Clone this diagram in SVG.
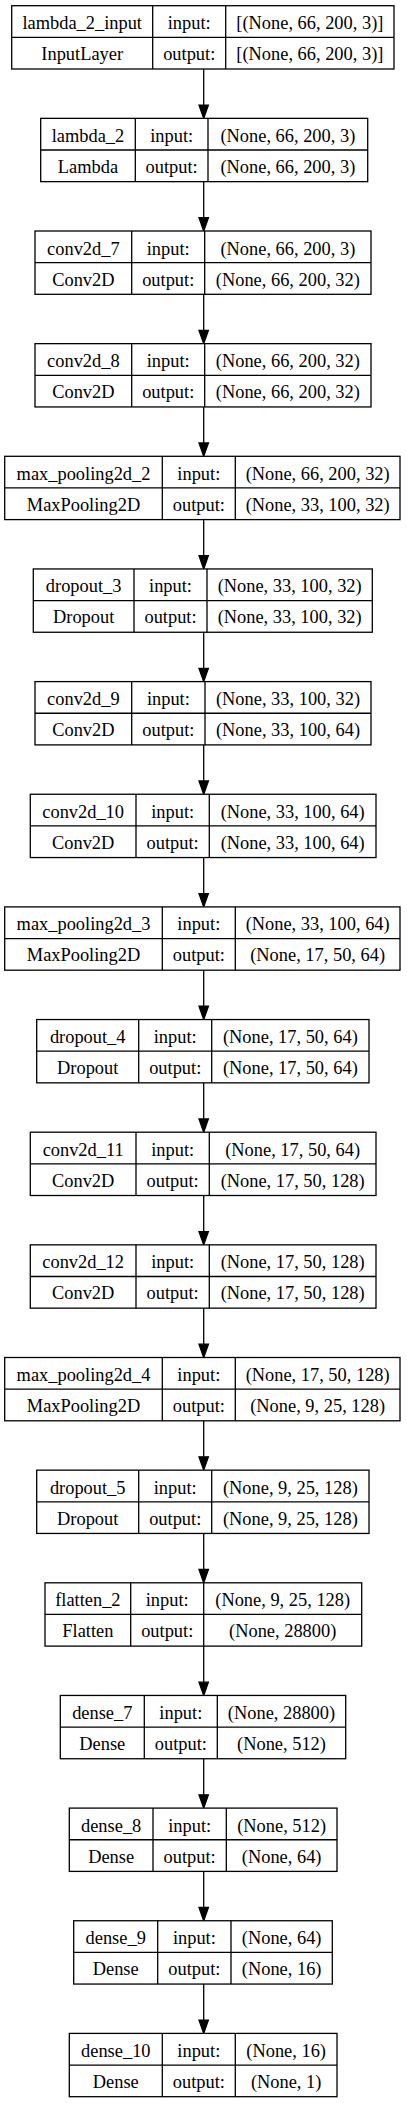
<svg xmlns="http://www.w3.org/2000/svg" width="407" height="2103" viewBox="0 0 407 2103" font-family="'Liberation Serif', Tinos, 'Times New Roman', 'DejaVu Serif', serif">
<style>
.bg{fill:#ffffff}
.box{fill:#ffffff;stroke:#000000;stroke-width:1.3}
.sep{stroke:#000000;stroke-width:1.3;fill:none}
.t{font-family:'Liberation Serif', Tinos, 'Times New Roman', 'DejaVu Serif', serif;font-size:18.4px;fill:#000000;text-anchor:middle}
.edge{stroke:#000000;stroke-width:1.3;fill:none;marker-end:url(#ah)}
</style>
<defs>
<marker id="ah" markerUnits="userSpaceOnUse" markerWidth="16" markerHeight="12" refX="0" refY="4.7" orient="auto" viewBox="-1 0 16 9.4" overflow="visible">
<path d="M0,0 L13.3,4.7 L0,9.4 Z" fill="#000000" stroke="#000000" stroke-width="1.3"/>
</marker>
</defs>
<rect class="bg" x="0" y="0" width="407" height="2103"/>

<g id="connectors">
<line class="edge" x1="203.7" y1="69" x2="203.7" y2="105.05"/>
<line class="edge" x1="203.7" y1="181.65" x2="203.7" y2="217.7"/>
<line class="edge" x1="203.7" y1="294.3" x2="203.7" y2="330.35"/>
<line class="edge" x1="203.7" y1="406.95" x2="203.7" y2="443"/>
<line class="edge" x1="203.7" y1="519.6" x2="203.7" y2="555.65"/>
<line class="edge" x1="203.7" y1="632.25" x2="203.7" y2="668.3"/>
<line class="edge" x1="203.7" y1="744.9" x2="203.7" y2="780.95"/>
<line class="edge" x1="203.7" y1="857.55" x2="203.7" y2="893.6"/>
<line class="edge" x1="203.7" y1="970.2" x2="203.7" y2="1006.25"/>
<line class="edge" x1="203.7" y1="1082.85" x2="203.7" y2="1118.9"/>
<line class="edge" x1="203.7" y1="1195.5" x2="203.7" y2="1231.55"/>
<line class="edge" x1="203.7" y1="1308.15" x2="203.7" y2="1344.2"/>
<line class="edge" x1="203.7" y1="1420.8" x2="203.7" y2="1456.85"/>
<line class="edge" x1="203.7" y1="1533.45" x2="203.7" y2="1569.5"/>
<line class="edge" x1="203.7" y1="1646.1" x2="203.7" y2="1682.15"/>
<line class="edge" x1="203.7" y1="1758.75" x2="203.7" y2="1794.8"/>
<line class="edge" x1="203.7" y1="1871.4" x2="203.7" y2="1907.45"/>
<line class="edge" x1="203.7" y1="1984.05" x2="203.7" y2="2020.1"/>
</g>

<g id="node_lambda_2_input" class="t" transform="translate(0,5.7)">
<rect class="box" x="11.7" y="0" width="382.3" height="63.3"/>
<path class="sep" d="M152.7,0V63.3M225.7,0V63.3M11.7,31.65H394"/>
<text x="82.2" y="23.5">lambda_2_input</text><text x="82.2" y="54.5">InputLayer</text>
<text x="189.2" y="23.5">input:</text><text x="189.2" y="54.5">output:</text>
<text x="309.85" y="23.5">[(None, 66, 200, 3)]</text><text x="309.85" y="54.5">[(None, 66, 200, 3)]</text>
</g>

<g id="node_lambda_2" class="t" transform="translate(0,118.35)">
<rect class="box" x="40.7" y="0" width="327" height="63.3"/>
<path class="sep" d="M135.3,0V63.3M208,0V63.3M40.7,31.65H367.7"/>
<text x="88" y="23.5">lambda_2</text><text x="88" y="54.5">Lambda</text>
<text x="171.65" y="23.5">input:</text><text x="171.65" y="54.5">output:</text>
<text x="287.85" y="23.5">(None, 66, 200, 3)</text><text x="287.85" y="54.5">(None, 66, 200, 3)</text>
</g>

<g id="node_conv2d_7" class="t" transform="translate(0,231)">
<rect class="box" x="35" y="0" width="336" height="63.3"/>
<path class="sep" d="M131.7,0V63.3M204.7,0V63.3M35,31.65H371"/>
<text x="83.35" y="23.5">conv2d_7</text><text x="83.35" y="54.5">Conv2D</text>
<text x="168.2" y="23.5">input:</text><text x="168.2" y="54.5">output:</text>
<text x="287.85" y="23.5">(None, 66, 200, 3)</text><text x="287.85" y="54.5">(None, 66, 200, 32)</text>
</g>

<g id="node_conv2d_8" class="t" transform="translate(0,343.65)">
<rect class="box" x="35" y="0" width="336" height="63.3"/>
<path class="sep" d="M131.7,0V63.3M204.7,0V63.3M35,31.65H371"/>
<text x="83.35" y="23.5">conv2d_8</text><text x="83.35" y="54.5">Conv2D</text>
<text x="168.2" y="23.5">input:</text><text x="168.2" y="54.5">output:</text>
<text x="287.85" y="23.5">(None, 66, 200, 32)</text><text x="287.85" y="54.5">(None, 66, 200, 32)</text>
</g>

<g id="node_max_pooling2d_2" class="t" transform="translate(0,456.3)">
<rect class="box" x="4.7" y="0" width="395.3" height="63.3"/>
<path class="sep" d="M162.3,0V63.3M235.3,0V63.3M4.7,31.65H400"/>
<text x="83.5" y="23.5">max_pooling2d_2</text><text x="83.5" y="54.5">MaxPooling2D</text>
<text x="198.8" y="23.5">input:</text><text x="198.8" y="54.5">output:</text>
<text x="317.65" y="23.5">(None, 66, 200, 32)</text><text x="317.65" y="54.5">(None, 33, 100, 32)</text>
</g>

<g id="node_dropout_3" class="t" transform="translate(0,568.95)">
<rect class="box" x="33.3" y="0" width="339" height="63.3"/>
<path class="sep" d="M134,0V63.3M207,0V63.3M33.3,31.65H372.3"/>
<text x="83.65" y="23.5">dropout_3</text><text x="83.65" y="54.5">Dropout</text>
<text x="170.5" y="23.5">input:</text><text x="170.5" y="54.5">output:</text>
<text x="289.65" y="23.5">(None, 33, 100, 32)</text><text x="289.65" y="54.5">(None, 33, 100, 32)</text>
</g>

<g id="node_conv2d_9" class="t" transform="translate(0,681.6)">
<rect class="box" x="35" y="0" width="336" height="63.3"/>
<path class="sep" d="M131.7,0V63.3M205,0V63.3M35,31.65H371"/>
<text x="83.35" y="23.5">conv2d_9</text><text x="83.35" y="54.5">Conv2D</text>
<text x="168.35" y="23.5">input:</text><text x="168.35" y="54.5">output:</text>
<text x="288" y="23.5">(None, 33, 100, 32)</text><text x="288" y="54.5">(None, 33, 100, 64)</text>
</g>

<g id="node_conv2d_10" class="t" transform="translate(0,794.25)">
<rect class="box" x="30.3" y="0" width="345.7" height="63.3"/>
<path class="sep" d="M136,0V63.3M209.3,0V63.3M30.3,31.65H376"/>
<text x="83.15" y="23.5">conv2d_10</text><text x="83.15" y="54.5">Conv2D</text>
<text x="172.65" y="23.5">input:</text><text x="172.65" y="54.5">output:</text>
<text x="292.65" y="23.5">(None, 33, 100, 64)</text><text x="292.65" y="54.5">(None, 33, 100, 64)</text>
</g>

<g id="node_max_pooling2d_3" class="t" transform="translate(0,906.9)">
<rect class="box" x="4.7" y="0" width="395.3" height="63.3"/>
<path class="sep" d="M162.3,0V63.3M235.3,0V63.3M4.7,31.65H400"/>
<text x="83.5" y="23.5">max_pooling2d_3</text><text x="83.5" y="54.5">MaxPooling2D</text>
<text x="198.8" y="23.5">input:</text><text x="198.8" y="54.5">output:</text>
<text x="317.65" y="23.5">(None, 33, 100, 64)</text><text x="317.65" y="54.5">(None, 17, 50, 64)</text>
</g>

<g id="node_dropout_4" class="t" transform="translate(0,1019.55)">
<rect class="box" x="36.7" y="0" width="332.3" height="63.3"/>
<path class="sep" d="M138.7,0V63.3M211.7,0V63.3M36.7,31.65H369"/>
<text x="87.7" y="23.5">dropout_4</text><text x="87.7" y="54.5">Dropout</text>
<text x="175.2" y="23.5">input:</text><text x="175.2" y="54.5">output:</text>
<text x="290.35" y="23.5">(None, 17, 50, 64)</text><text x="290.35" y="54.5">(None, 17, 50, 64)</text>
</g>

<g id="node_conv2d_11" class="t" transform="translate(0,1132.2)">
<rect class="box" x="30.3" y="0" width="345.7" height="63.3"/>
<path class="sep" d="M136,0V63.3M209.3,0V63.3M30.3,31.65H376"/>
<text x="83.15" y="23.5">conv2d_11</text><text x="83.15" y="54.5">Conv2D</text>
<text x="172.65" y="23.5">input:</text><text x="172.65" y="54.5">output:</text>
<text x="292.65" y="23.5">(None, 17, 50, 64)</text><text x="292.65" y="54.5">(None, 17, 50, 128)</text>
</g>

<g id="node_conv2d_12" class="t" transform="translate(0,1244.85)">
<rect class="box" x="30.3" y="0" width="345.7" height="63.3"/>
<path class="sep" d="M136,0V63.3M209.3,0V63.3M30.3,31.65H376"/>
<text x="83.15" y="23.5">conv2d_12</text><text x="83.15" y="54.5">Conv2D</text>
<text x="172.65" y="23.5">input:</text><text x="172.65" y="54.5">output:</text>
<text x="292.65" y="23.5">(None, 17, 50, 128)</text><text x="292.65" y="54.5">(None, 17, 50, 128)</text>
</g>

<g id="node_max_pooling2d_4" class="t" transform="translate(0,1357.5)">
<rect class="box" x="4.7" y="0" width="395.3" height="63.3"/>
<path class="sep" d="M162.3,0V63.3M235.3,0V63.3M4.7,31.65H400"/>
<text x="83.5" y="23.5">max_pooling2d_4</text><text x="83.5" y="54.5">MaxPooling2D</text>
<text x="198.8" y="23.5">input:</text><text x="198.8" y="54.5">output:</text>
<text x="317.65" y="23.5">(None, 17, 50, 128)</text><text x="317.65" y="54.5">(None, 9, 25, 128)</text>
</g>

<g id="node_dropout_5" class="t" transform="translate(0,1470.15)">
<rect class="box" x="36.7" y="0" width="332.3" height="63.3"/>
<path class="sep" d="M138.7,0V63.3M211.7,0V63.3M36.7,31.65H369"/>
<text x="87.7" y="23.5">dropout_5</text><text x="87.7" y="54.5">Dropout</text>
<text x="175.2" y="23.5">input:</text><text x="175.2" y="54.5">output:</text>
<text x="290.35" y="23.5">(None, 9, 25, 128)</text><text x="290.35" y="54.5">(None, 9, 25, 128)</text>
</g>

<g id="node_flatten_2" class="t" transform="translate(0,1582.8)">
<rect class="box" x="45" y="0" width="316.7" height="63.3"/>
<path class="sep" d="M130.7,0V63.3M203.7,0V63.3M45,31.65H361.7"/>
<text x="87.85" y="23.5">flatten_2</text><text x="87.85" y="54.5">Flatten</text>
<text x="167.2" y="23.5">input:</text><text x="167.2" y="54.5">output:</text>
<text x="282.7" y="23.5">(None, 9, 25, 128)</text><text x="282.7" y="54.5">(None, 28800)</text>
</g>

<g id="node_dense_7" class="t" transform="translate(0,1695.45)">
<rect class="box" x="60.3" y="0" width="285.4" height="63.3"/>
<path class="sep" d="M144.3,0V63.3M217.3,0V63.3M60.3,31.65H345.7"/>
<text x="102.3" y="23.5">dense_7</text><text x="102.3" y="54.5">Dense</text>
<text x="180.8" y="23.5">input:</text><text x="180.8" y="54.5">output:</text>
<text x="281.5" y="23.5">(None, 28800)</text><text x="281.5" y="54.5">(None, 512)</text>
</g>

<g id="node_dense_8" class="t" transform="translate(0,1808.1)">
<rect class="box" x="69.3" y="0" width="267.7" height="63.3"/>
<path class="sep" d="M153,0V63.3M226.3,0V63.3M69.3,31.65H337"/>
<text x="111.15" y="23.5">dense_8</text><text x="111.15" y="54.5">Dense</text>
<text x="189.65" y="23.5">input:</text><text x="189.65" y="54.5">output:</text>
<text x="281.65" y="23.5">(None, 512)</text><text x="281.65" y="54.5">(None, 64)</text>
</g>

<g id="node_dense_9" class="t" transform="translate(0,1920.75)">
<rect class="box" x="73.7" y="0" width="258.6" height="63.3"/>
<path class="sep" d="M157.7,0V63.3M231,0V63.3M73.7,31.65H332.3"/>
<text x="115.7" y="23.5">dense_9</text><text x="115.7" y="54.5">Dense</text>
<text x="194.35" y="23.5">input:</text><text x="194.35" y="54.5">output:</text>
<text x="281.65" y="23.5">(None, 64)</text><text x="281.65" y="54.5">(None, 16)</text>
</g>

<g id="node_dense_10" class="t" transform="translate(0,2033.4)">
<rect class="box" x="69.3" y="0" width="267.7" height="63.3"/>
<path class="sep" d="M162.3,0V63.3M235.3,0V63.3M69.3,31.65H337"/>
<text x="115.8" y="23.5">dense_10</text><text x="115.8" y="54.5">Dense</text>
<text x="198.8" y="23.5">input:</text><text x="198.8" y="54.5">output:</text>
<text x="286.15" y="23.5">(None, 16)</text><text x="286.15" y="54.5">(None, 1)</text>
</g>
</svg>
